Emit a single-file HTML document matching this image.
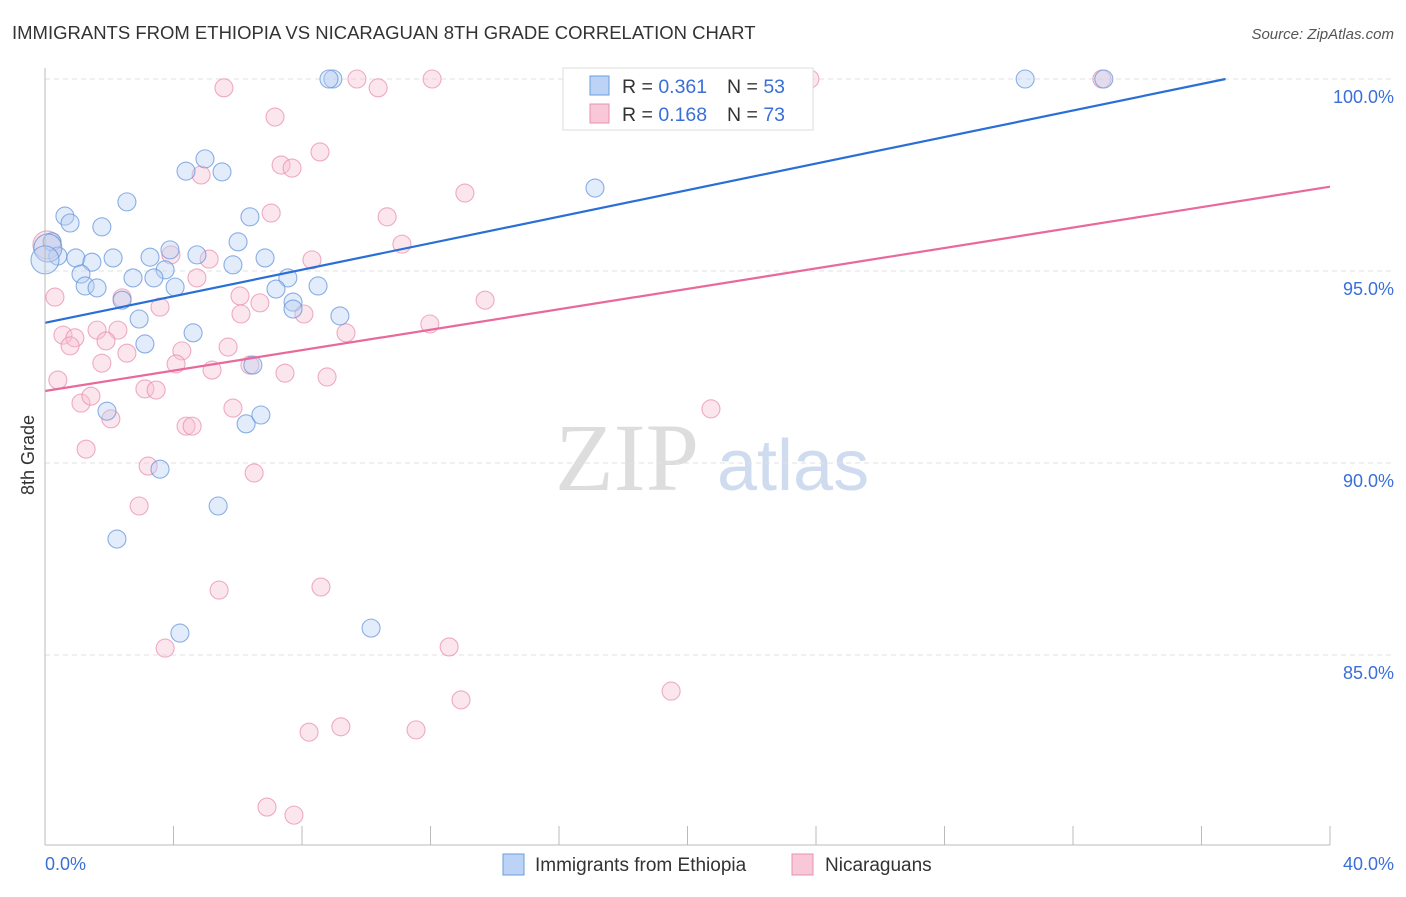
<!DOCTYPE html>
<html><head><meta charset="utf-8"><style>
body{margin:0;background:#fff;font-family:"Liberation Sans",sans-serif}
</style></head><body>
<svg id="c" width="1406" height="892" xmlns="http://www.w3.org/2000/svg">
<text x="12" y="39" font-size="18.5" fill="#333">IMMIGRANTS FROM ETHIOPIA VS NICARAGUAN 8TH GRADE CORRELATION CHART</text>
<text x="1394" y="39" font-size="15" fill="#555" font-style="italic" text-anchor="end">Source: ZipAtlas.com</text>
<text x="34" y="455" font-size="18" fill="#333" transform="rotate(-90 34 455)" text-anchor="middle">8th Grade</text>
<text x="555" y="490" font-size="96" fill="#ddd" font-family="Liberation Serif,serif">ZIP</text>
<text x="717" y="490" font-size="72" fill="#cfdcef">atlas</text>
<g id="grid"></g><g id="pts"></g><g id="lines"></g>
<line x1="45" y1="68" x2="45" y2="845" stroke="#bbb"/>
<line x1="45" y1="845" x2="1330" y2="845" stroke="#bbb"/>
<text x="45" y="870" font-size="18" fill="#3a6fd8">0.0%</text>
<text x="1394" y="870" font-size="18" fill="#3a6fd8" text-anchor="end">40.0%</text>
<g>
<rect x="563" y="68" width="250" height="62" fill="#fff" stroke="#ddd"/>
<rect x="590" y="76" width="19" height="19" fill="#bcd3f5" stroke="#6a9de0"/>
<rect x="590" y="104" width="19" height="19" fill="#f8c8d8" stroke="#e890ae"/>
<text x="622" y="93" font-size="19.5" fill="#333">R = <tspan fill="#3a6fd8">0.361</tspan></text>
<text x="727" y="93" font-size="19.5" fill="#333">N = <tspan fill="#3a6fd8">53</tspan></text>
<text x="622" y="121" font-size="19.5" fill="#333">R = <tspan fill="#3a6fd8">0.168</tspan></text>
<text x="727" y="121" font-size="19.5" fill="#333">N = <tspan fill="#3a6fd8">73</tspan></text>
</g>
<g>
<rect x="503" y="854" width="21" height="21" fill="#bcd3f5" stroke="#6a9de0"/>
<text x="535" y="871" font-size="19" fill="#333">Immigrants from Ethiopia</text>
<rect x="792" y="854" width="21" height="21" fill="#f8c8d8" stroke="#e890ae"/>
<text x="825" y="871" font-size="19" fill="#333">Nicaraguans</text>
</g>
</svg>
<script>
const yTicks=[100,95,90,85];
const xTicks=[0,4,8,12,16,20,24,28,32,36,40];
const bluePx=[[333,79],[329,79],[1025,79],[1104,79],[793,79],[205,159],[186,171],[222,172],[127,202],[65,216],[70,223],[102,227],[250,217],[595,188],[238,242],[52,242],[170,250],[58,256],[76,258],[92,262],[113,258],[150,257],[197,255],[265,258],[233,265],[165,270],[81,274],[133,278],[154,278],[288,278],[85,286],[97,288],[175,287],[276,289],[318,286],[122,300],[293,302],[293,309],[139,319],[340,316],[193,333],[145,344],[253,365],[107,411],[246,424],[261,415],[160,469],[218,506],[117,539],[180,633],[371,628],[48,248],[45,260]];
const pinkPx=[[224,88],[357,79],[378,88],[432,79],[587,79],[720,79],[810,79],[1102,79],[275,117],[320,152],[281,165],[292,168],[201,175],[465,193],[271,213],[387,217],[402,244],[171,255],[209,259],[312,260],[197,278],[240,296],[55,297],[122,298],[160,307],[260,303],[304,314],[241,314],[485,300],[63,335],[97,330],[118,330],[430,324],[346,333],[75,338],[70,346],[106,341],[182,351],[228,347],[127,353],[102,363],[176,364],[212,370],[250,365],[285,373],[327,377],[58,380],[145,389],[156,390],[81,403],[91,396],[111,419],[233,408],[186,426],[192,426],[711,409],[86,449],[148,466],[254,473],[139,506],[219,590],[321,587],[165,648],[449,647],[671,691],[461,700],[309,732],[341,727],[416,730],[267,807],[294,815],[47,245]];
const blueX=bluePx.map(p=>+((p[0]-45)/1285*40).toFixed(2));
const blueY=bluePx.map(p=>+(100-(p[1]-79)/38.4).toFixed(2));
const pinkX=pinkPx.map(p=>+((p[0]-45)/1285*40).toFixed(2));
const pinkY=pinkPx.map(p=>+(100-(p[1]-79)/38.4).toFixed(2));
const trendIntercept=[93.65,91.875];
const trendSlope=[0.1728,0.133];
function sx(v){return 45+v/40*1285}
function sy(v){return 79+(100-v)*38.4}
const NS='http://www.w3.org/2000/svg';
function mk(t,a,p){const e=document.createElementNS(NS,t);for(const k in a)e.setAttribute(k,a[k]);p.appendChild(e);return e}
const grid=document.getElementById('grid');
yTicks.forEach(v=>{
 const l=mk('line',{x1:45,x2:1394,y1:sy(v),y2:sy(v),stroke:'#e2e2e2','stroke-dasharray':'5,4'},grid);
 
 
 const t=mk('text',{x:1394,y:sy(v)+24,'font-size':18,fill:'#3a6fd8','text-anchor':'end'},grid);
 t.textContent=v.toFixed(1)+'%';
 
 
});
xTicks.forEach(v=>{
 const l=mk('line',{x1:sx(v),x2:sx(v),y1:826,y2:845,stroke:'#bbb'},grid);
 
 
});
const pts=document.getElementById('pts');
function draw(X,Y,fill,stroke,name){
 X.forEach((x,i)=>{
  const big=x<0.2;
  const c=mk('circle',{cx:sx(x),cy:sy(Y[i]),r:big?14:9,fill:fill,'fill-opacity':0.4,stroke:stroke,'stroke-width':1.1,'stroke-opacity':0.7},pts);
  
  
 });
}
draw(pinkX,pinkY,'#f8c0d2','#e88aab','point-nicaraguans');
draw(blueX,blueY,'#b8d0f3','#5b90dc','point-ethiopia');
const lines=document.getElementById('lines');
const lc=['#2a6fd6','#e8699a'];
[0,1].forEach(i=>{
 let x2=40,y2=trendIntercept[i]+trendSlope[i]*40;
 if(y2>100){y2=100;x2=(100-trendIntercept[i])/trendSlope[i];}
 const l=mk('line',{x1:sx(0),y1:sy(trendIntercept[i]),x2:sx(x2),y2:sy(y2),stroke:lc[i],'stroke-width':2.2},lines);
 
 
});
</script>
</body></html>
